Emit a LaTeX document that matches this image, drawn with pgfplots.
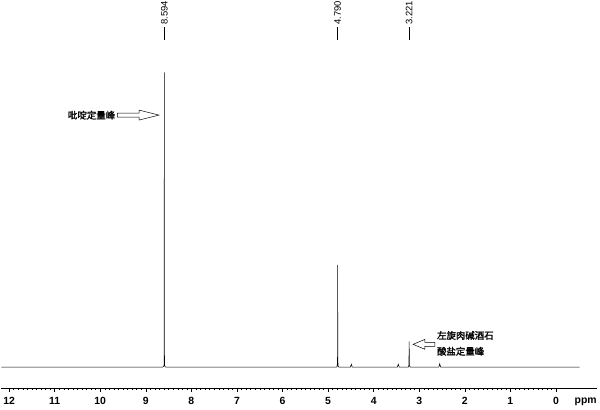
\documentclass[border=0pt]{standalone}
\usepackage{pgfplots}
\pgfplotsset{compat=1.18}
\usepackage{fontspec}
\setmainfont{Liberation Sans}
\newfontfamily\cjk{Noto Sans CJK SC}[AutoFakeBold=1.5]

\begin{document}
\begin{tikzpicture}
\begin{axis}[
    at={(0,0)}, anchor=south west,
    scale only axis,
    width=600pt, height=391pt,
    x dir=reverse,
    xmin=-0.893, xmax=12.173,
    ymin=0, ymax=391,
    axis y line=none,
    axis x line*=bottom,
    x axis line style={-, line width=0.5pt},
    xtick={0,1,...,12},
    minor x tick num=9,
    tick align=outside,
    major tick length=4pt,
    minor tick length=2pt,
    every tick/.style={black, line width=0.4pt},
    ytick=\empty,
    xticklabel style={font=\fontsize{10.5}{12}\selectfont\bfseries, yshift=-2pt},
    /pgf/number format/assume math mode=true,
    clip=false,
]
\addplot[black, line width=0.55pt] coordinates {
    (12.17,21)
    (8.64,21)(8.61,21.5)(8.600,23)(8.596,40)(8.594,318)(8.592,40)(8.588,23)(8.578,21.5)(8.55,21)
    (4.82,21)(4.80,22)(4.793,30)(4.790,124)(4.787,30)(4.78,22)(4.76,21)
    (4.51,21)(4.49,24)(4.47,21)
    (3.48,21)(3.46,24)(3.44,21)
    (3.24,21)(3.226,23)(3.221,47)(3.216,23)(3.20,21)
    (2.57,21)(2.55,24.5)(2.53,21)
    (-0.52,21)
};
% peak labels
\foreach \p in {8.594,4.790,3.221} {
  \edef\tmp{\noexpand\draw[line width=0.5pt] (axis cs:\p,364) -- (axis cs:\p,351);
    \noexpand\node[rotate=90, anchor=west, inner sep=1pt, font=\noexpand\fontsize{9.5}{10}\noexpand\selectfont] at (axis cs:\p,365) {\p};}
  \tmp
}
\node[anchor=base, font=\fontsize{10.5}{12}\selectfont\bfseries] at (axis cs:-0.653,0) [yshift=-16pt] {ppm};
\end{axis}
\begin{scope}[x=1pt, y=-1pt, yshift=391pt]
  \draw[line width=0.5pt] (117,114) -- (139,114) -- (139,111) -- (159,116) -- (139,121) -- (139,118) -- (117,118) -- cycle;
  \draw[line width=0.5pt] (437,345) -- (427,345) -- (427,342) -- (415,347) -- (427,352) -- (427,349) -- (437,349) -- cycle;
  \node[anchor=east, inner sep=1pt, font=\cjk\bfseries\fontsize{9.5}{11}\selectfont] at (116,116) {吡啶定量峰};
  \node[anchor=west, inner sep=1pt, font=\cjk\bfseries\fontsize{9.5}{11}\selectfont] at (438,338) {左旋肉碱酒石};
  \node[anchor=west, inner sep=1pt, font=\cjk\bfseries\fontsize{9.5}{11}\selectfont] at (438,354) {酸盐定量峰};
  \path (0,0) (600,411);
\end{scope}
\end{tikzpicture}
\end{document}
